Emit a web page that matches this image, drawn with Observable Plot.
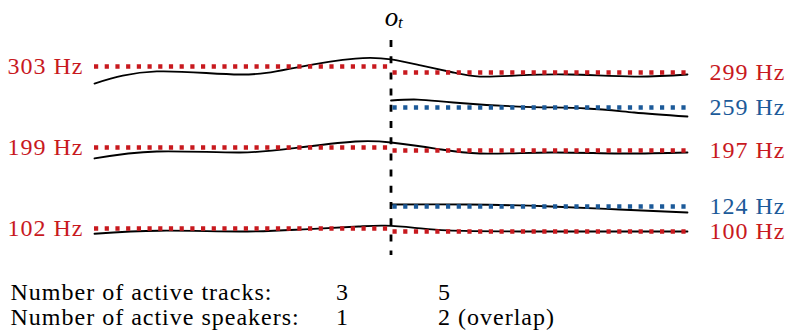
<!DOCTYPE html>
<html><head><meta charset="utf-8">
<script src="https://cdn.jsdelivr.net/npm/d3@7"></script>
<script src="https://cdn.jsdelivr.net/npm/@observablehq/plot@0.6"></script>
<style>
body{margin:0;background:#fff}
#chart svg text{font-family:"Liberation Serif","DejaVu Serif";letter-spacing:1px}
</style>
</head><body><div id="chart"></div>
<script>
// time of the onset of the overlap (frames 0..100)
const oT = 50;
const tStart = 0, tEnd = 100;

// F0 tracks: before onset and after onset
const beforeHz = [303, 199, 102];
const beforeSpeaker = ["A", "A", "A"];
const afterHz = [299, 259, 197, 124, 100];
const afterSpeaker = ["A", "B", "A", "B", "A"];

// pitch contours (time, Hz)
const c1T  = [0, 10.5, 24.5, 34, 44, 50, 55, 60.5, 65, 71.5, 80, 91, 100];
const c1Hz = [286.4, 299.7, 296.7, 302.3, 308.3, 307.7, 303.7, 299, 294.4, 295.6, 296.7, 294.4, 296.7];
const c2T  = [50, 54.5, 60.5, 71.5, 83, 91, 100];
const c2Hz = [267, 268.1, 264.7, 260.1, 257.5, 251.5, 245.5];
const c3T  = [0, 10.5, 24.5, 34, 44, 50, 57.5, 65, 77, 88.5, 100];
const c3Hz = [186.6, 195.7, 194.4, 198.7, 208, 206.5, 198.3, 193.1, 194.4, 193.1, 194.4];
const c4T  = [50, 63, 77, 88.5, 100];
const c4Hz = [126.6, 126.6, 124, 121, 118];
const c5T  = [0, 11, 24.5, 34.5, 44.5, 49, 54, 59.5, 72, 100];
const c5Hz = [98.5, 100.5, 100, 101.3, 104, 104.8, 102.7, 100.7, 100, 100];

// bottom table
const rowLabels = ["Number of active tracks:", "Number of active speakers:"];
const countsBefore = ["3", "1"];
const countsAfter = ["5", "2 (overlap)"];

const red = "#c8191e", blue = "#1c5a99";

// schematic (non-uniform) frequency axis: labelled frequencies -> vertical layout
const hzStops = [100, 102, 124, 197, 199, 259, 299, 303];
const layoutStops = [231, 228, 206, 150, 147, 107, 72, 66];
const hzLayout = d3.scaleLinear(hzStops, layoutStops);

const before = beforeHz.map((hz, i) => ({hz, speaker: beforeSpeaker[i], t1: tStart, t2: oT}));
const after = afterHz.map((hz, i) => ({hz, speaker: afterSpeaker[i], t1: oT, t2: tEnd}));
const contours = [[c1T, c1Hz], [c2T, c2Hz], [c3T, c3Hz], [c4T, c4Hz], [c5T, c5Hz]]
  .flatMap(([ts, hs], k) => ts.map((t, i) => ({id: k, t, hz: hs[i]})));

const font = "Liberation Serif";
const dots = {strokeWidth: 4.5, strokeDasharray: "4.2,6.5"};
const txt = {fontFamily: font, fontSize: 24};

const chart = Plot.plot({
  width: 785,
  height: 334,
  marginTop: 0, marginBottom: 0, marginLeft: 10, marginRight: 0,
  style: {fontFamily: font, fontSize: "24px", background: "#fff"},
  x: {domain: [tStart, tEnd], range: [94, 687], axis: null},
  y: {transform: hzLayout, domain: [0, 334], range: [0, 334], axis: null},
  color: {domain: ["A", "B"], range: [red, blue]},
  marks: [
    Plot.ruleX([oT], {x: d => d, insetTop: 40, insetBottom: 79, stroke: "#000", strokeWidth: 2.8, strokeDasharray: "7,9.2"}),
    Plot.line(contours, {x: "t", y: "hz", z: "id", curve: "natural", stroke: "#000", strokeWidth: 1.8}),
    Plot.ruleY(before, {y: "hz", x1: "t1", x2: "t2", stroke: "speaker", ...dots}),
    Plot.ruleY(after, {y: "hz", x1: "t1", x2: "t2", stroke: "speaker", ...dots, strokeDashoffset: 8.7}),
    Plot.text(before, {x: "t1", y: "hz", text: d => `${d.hz} Hz`, fill: "speaker", textAnchor: "end", dx: -11, ...txt}),
    Plot.text(after, {x: "t2", y: "hz", text: d => `${d.hz} Hz`, fill: "speaker", textAnchor: "start", dx: 22, ...txt}),
    Plot.text([oT], {x: d => d, text: () => "o", frameAnchor: "top", lineAnchor: "bottom", dy: 25, dx: 1, fontStyle: "italic", fill: "#000", fontFamily: font, fontSize: 27}),
    Plot.text([oT], {x: d => d, text: () => "t", frameAnchor: "top", lineAnchor: "bottom", dy: 27.5, dx: 7, textAnchor: "start", fontStyle: "italic", fill: "#000", fontFamily: font, fontSize: 17}),
    ...rowLabels.map((label, i) => Plot.text([label], {text: d => d, frameAnchor: "bottom-left", textAnchor: "start", lineAnchor: "bottom", dy: i === 0 ? -35 : -10, fill: "#000", ...txt})),
    ...countsBefore.map((c, i) => Plot.text([oT], {x: d => d, text: () => c, frameAnchor: "bottom", textAnchor: "start", lineAnchor: "bottom", dx: -55, dy: i === 0 ? -35 : -10, fill: "#000", ...txt})),
    ...countsAfter.map((c, i) => Plot.text([oT], {x: d => d, text: () => c, frameAnchor: "bottom", textAnchor: "start", lineAnchor: "bottom", dx: 47, dy: i === 0 ? -35 : -10, fill: "#000", ...txt}))
  ]
});
document.getElementById("chart").appendChild(chart);
</script>
</body></html>
